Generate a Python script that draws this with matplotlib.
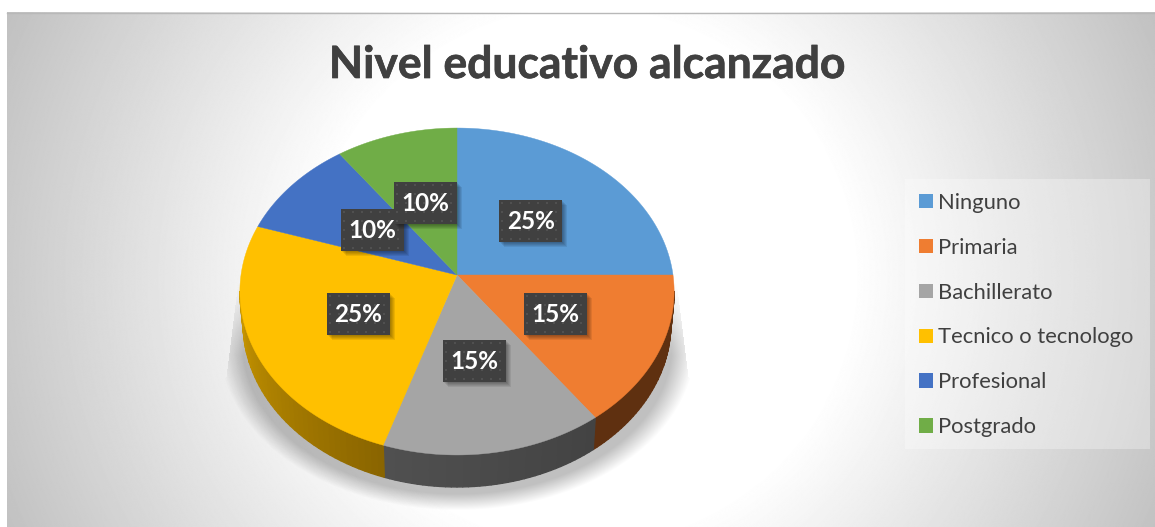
import numpy as np
import matplotlib
matplotlib.use("Agg")
import matplotlib.pyplot as plt
import matplotlib.patheffects as pe
from matplotlib.patches import Patch, Rectangle
from matplotlib.collections import PolyCollection
from matplotlib.colors import to_rgb

categories = ["Ninguno", "Primaria", "Bachillerato", "Tecnico o tecnologo", "Profesional", "Postgrado"]
values = [25, 15, 15, 25, 10, 10]
colors = ["#5B9BD5", "#EF7D31", "#A5A5A5", "#FFC000", "#4472C4", "#70AD47"]
# side wall colours, (start, end) going clockwise
wall_colors = {1: ("#5f3010", "#5f3010"), 2: ("#434343", "#505050"), 3: ("#8a6500", "#c89600")}

W, H = 1155, 527
CX, CY, RX, RY, K = 457, 275, 216, 161.8, 0.1009
DEPTH, TAPER = 32, 0.985
TEXT = "#404040"

plt.rcParams["font.family"] = ["Lato", "DejaVu Sans"]


def project(theta, r=1.0):
    # theta in degrees clockwise from top; tilted disc with perspective
    t = np.radians(theta)
    u, v = r * np.sin(t), r * np.cos(t)
    d = 1 + K * v
    return CX + RX * u / d, CY - RY * v / d


fig = plt.figure(figsize=(W / 100, H / 100), dpi=100)
ax = fig.add_axes([0, 0, 1, 1])

# radial background
yy, xx = np.mgrid[0:H, 0:W]
dist = np.hypot(xx - 580, yy - 270)
grey = np.clip(255 - np.clip(dist - 270, 0, None) * 0.17, 0, 255) / 255
ax.imshow(grey, cmap="gray", vmin=0, vmax=1, extent=(7, W, H, 12), aspect="auto",
          interpolation="bilinear", zorder=0)
ax.plot([7, W], [12.5, 12.5], color="#b8b8b8", lw=1, zorder=1)

# soft shadow below the pie: tapered sheet at the sides, blurred arc at the bottom
e = np.hypot((xx - CX) / 238.0, (yy - 345) / 165.0)
alpha = np.clip((1 - e) / 0.1, 0, 1) * np.clip((yy - 265) / 90.0, 0, 1) * 0.25
sheet = np.abs(xx - CX) <= 217 + (yy - 265) * 0.125
alpha[(yy < 378) & ~sheet] = 0
shadow = np.zeros((H, W, 4))
shadow[..., 3] = alpha
ax.imshow(shadow, extent=(0, W, H, 0), aspect="auto", interpolation="bilinear", zorder=2)

ax.set_xlim(0, W)
ax.set_ylim(H, 0)
ax.axis("off")

# wedges
edges = np.cumsum([0] + values) / sum(values) * 360
tangent = np.degrees(np.arccos(-K))

quads, quad_cols = [], []
for i, (c0, c1) in wall_colors.items():
    a0 = max(edges[i], tangent)
    a1 = min(edges[i + 1], 360 - tangent)
    steps = np.linspace(a0, a1, 40)
    for n in range(len(steps) - 1):
        x0, y0 = project(steps[n])
        x1, y1 = project(steps[n + 1])
        bx0 = CX + (x0 - CX) * TAPER
        bx1 = CX + (x1 - CX) * TAPER
        quads.append([(x0, y0), (x1, y1), (bx1, y1 + DEPTH), (bx0, y0 + DEPTH)])
        f = n / (len(steps) - 2)
        quad_cols.append(tuple((1 - f) * a + f * b for a, b in zip(to_rgb(c0), to_rgb(c1))))
ax.add_collection(PolyCollection(quads, facecolors=quad_cols, edgecolors=quad_cols, linewidths=1.0, zorder=3))

for i, col in enumerate(colors):
    arc = np.linspace(edges[i], edges[i + 1], 120)
    px, py = project(arc)
    ax.fill(np.r_[CX, px], np.r_[CY, py], color=col, lw=0.3, zorder=4)

# data labels
box_w, box_h = 63, 42
for i, v in enumerate(values):
    lx, ly = project((edges[i] + edges[i + 1]) / 2, 0.5)
    ly += 1.5
    z = 5 + i * 0.1
    for s in range(5, 0, -1):
        ax.add_patch(Rectangle((lx - box_w / 2 + s, ly - box_h / 2 + s), box_w, box_h,
                               fc="black", ec="none", alpha=0.08, zorder=z))
    ax.add_patch(Rectangle((lx - box_w / 2, ly - box_h / 2), box_w, box_h, fc="#404040", ec="none", zorder=z + 0.01))
    gx, gy = np.meshgrid(np.arange(lx - box_w / 2 + 3, lx + box_w / 2, 9),
                         np.arange(ly - box_h / 2 + 3, ly + box_h / 2, 9))
    ax.scatter(gx.ravel(), gy.ravel(), s=3, marker="s", color="#505050", lw=0, zorder=z + 0.02)
    ax.text(lx, ly + 0.5, f"{v}%", color="white", fontsize=17.5, fontweight="bold",
            ha="center", va="center", zorder=z + 0.03)

ax.text(587.5, 78, "Nivel educativo alcanzado", color=TEXT, fontsize=32, fontweight="bold",
        ha="center", va="baseline", zorder=6,
        path_effects=[pe.withStroke(linewidth=0.5, foreground=TEXT)])

ax.add_patch(Rectangle((905, 179), 245, 270, fc="white", ec="none", alpha=0.3, zorder=5.9))
handles = [Patch(facecolor=c, edgecolor="none", label=n) for c, n in zip(colors, categories)]
leg = ax.legend(handles=handles, loc="upper left", bbox_to_anchor=(905 / W, 1 - 179 / H),
                bbox_transform=fig.transFigure, frameon=False, fontsize=15.85, labelcolor=TEXT,
                handlelength=0.62, handleheight=0.62, handletextpad=0.27,
                labelspacing=1.13, borderaxespad=0, borderpad=0.63)
leg.set_zorder(6)

fig.savefig("out.png", dpi=100)
